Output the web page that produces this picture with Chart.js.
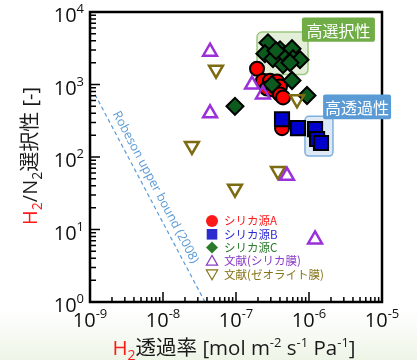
<!DOCTYPE html>
<html>
<head>
<meta charset="utf-8">
<script src="https://cdn.jsdelivr.net/npm/chart.js@4.4.1/dist/chart.umd.min.js"></script>
<style>
html, body { margin: 0; padding: 0; }
body { width: 417px; height: 360px; background: linear-gradient(180deg, #fff 0%, #fff 86%, #edf5e7 100%); }
#wrap { position: relative; width: 417px; height: 360px; }
</style>
</head>
<body>
<div id="wrap"><canvas id="chart"></canvas></div>
<script>
// H2 permeance [mol m-2 s-1 Pa-1] and H2/N2 selectivity [-]
var aPerm = [1.94e-7, 2.34e-7, 2.92e-7, 3.65e-7, 2.66e-7, 3.21e-7, 4.01e-7, 4.01e-7, 4.41e-7, 4.27e-7];
var aSel  = [1650, 1130, 1130, 1100, 880, 855, 940, 730, 664, 250];

var bPerm = [4.27e-7, 7.06e-7, 1.21e-6, 1.29e-6, 1.46e-6];
var bSel  = [332, 250, 242, 177, 156];

var cPerm = [2.74e-7, 2.49e-7, 3.21e-7, 4.01e-7, 4.41e-7, 4.69e-7, 5.85e-7, 6.04e-7, 7.53e-7, 5.49e-7, 3.53e-7, 3.11e-7, 5.85e-7, 9.39e-7, 9.68e-8];
var cSel  = [3760, 2660, 2270, 3010, 1880, 2580, 3110, 2270, 2200, 2000, 2920, 1000, 1135, 706, 500];

var silicaLitPerm = [4.41e-8, 4.41e-8, 1.66e-7, 2.34e-7, 5.0e-7, 1.21e-6];
var silicaLitSel  = [2830, 401, 1000, 730, 55, 7.3];

var zeoLitPerm = [5.32e-8, 6.86e-7, 2.49e-8, 3.76e-7, 9.68e-8];
var zeoLitSel  = [1600, 624, 142, 64, 36.5];

// Robeson upper bound (2008) as drawn
var robesonPerm = [1.17e-9, 3.76e-8];
var robesonSel  = [730, 1];

var seriesLabels = ['シリカ源A', 'シリカ源B', 'シリカ源C', '文献(シリカ膜)', '文献(ゼオライト膜)'];
var xTickExp = [-9, -8, -7, -6, -5];
var yTickExp = [0, 1, 2, 3, 4];

var FONT = "'Open Sans', 'Noto Sans CJK JP', sans-serif";
var JPFONT = "'Noto Sans CJK JP', 'Open Sans', sans-serif";

function pts(xs, ys) {
    var out = [];
    for (var i = 0; i < xs.length; i++) out.push({x: xs[i], y: ys[i]});
    return out;
}

function runsWidth(ctx, runs) {
    var w = 0;
    runs.forEach(function (r) {
        ctx.font = r.size + 'px ' + (r.font || FONT);
        w += ctx.measureText(r.t).width;
    });
    return w;
}

function drawRuns(ctx, runs, x, y, align) {
    var w = runsWidth(ctx, runs);
    var cx = align === 'center' ? x - w / 2 : (align === 'right' ? x - w : x);
    ctx.textAlign = 'left';
    ctx.textBaseline = 'alphabetic';
    runs.forEach(function (r) {
        ctx.font = r.size + 'px ' + (r.font || FONT);
        ctx.fillStyle = r.color || '#1a1a1a';
        ctx.fillText(r.t, cx, y + (r.dy || 0));
        cx += ctx.measureText(r.t).width;
    });
}

function powRuns(e) {
    return [{t: '10', size: 20, color: '#111'}, {t: String(e), size: 13, dy: -9, color: '#111'}];
}

function rrect(ctx, x, y, w, h, r) {
    ctx.beginPath();
    if (ctx.roundRect) ctx.roundRect(x, y, w, h, r);
    else ctx.rect(x, y, w, h);
}

// annotation areas, in data units
var greenBox = {x0: 1.94e-7, x1: 9.7e-7, y0: 5300, y1: 1370};
var greenTag = {x0: 8.0e-7, x1: 8.0e-6, y0: 8400, y1: 3900, text: '高選択性'};
var blueBox  = {x0: 8.8e-7, x1: 2.13e-6, y0: 365, y1: 103};
var blueTag  = {x0: 1.56e-6, x1: 1.33e-5, y0: 730, y1: 332, text: '高透過性'};

function boxPx(chart, b) {
    var xs = chart.scales.x, ys = chart.scales.y;
    var x0 = xs.getPixelForValue(b.x0), x1 = xs.getPixelForValue(b.x1);
    var y0 = ys.getPixelForValue(b.y0), y1 = ys.getPixelForValue(b.y1);
    return {x: x0, y: y0, w: x1 - x0, h: y1 - y0};
}

var deco = {
    id: 'deco',
    beforeDatasetsDraw: function (chart) {
        var ctx = chart.ctx;
        ctx.save();
        var g = boxPx(chart, greenBox);
        rrect(ctx, g.x, g.y, g.w, g.h, 5);
        ctx.fillStyle = '#e3efd9';
        ctx.fill();
        ctx.strokeStyle = '#9cc97f';
        ctx.lineWidth = 1.5;
        ctx.stroke();
        var b = boxPx(chart, blueBox);
        rrect(ctx, b.x, b.y, b.w, b.h, 4);
        ctx.fillStyle = '#dde9f6';
        ctx.fill();
        ctx.strokeStyle = '#7fb0de';
        ctx.stroke();
        ctx.restore();
    },
    afterDatasetsDraw: function (chart) {
        var ctx = chart.ctx, xs = chart.scales.x, ys = chart.scales.y, a = chart.chartArea;
        ctx.save();

        // Robeson label along the line
        var p0x = xs.getPixelForValue(robesonPerm[0]), p0y = ys.getPixelForValue(robesonSel[0]);
        var p1x = xs.getPixelForValue(robesonPerm[1]), p1y = ys.getPixelForValue(robesonSel[1]);
        var ang = Math.atan2(p1y - p0y, p1x - p0x);
        var mx = p0x + (p1x - p0x) * 0.47, my = p0y + (p1y - p0y) * 0.47;
        ctx.save();
        ctx.translate(mx + Math.sin(ang) * 10, my - Math.cos(ang) * 10);
        ctx.rotate(ang);
        ctx.font = '12.5px ' + FONT;
        ctx.fillStyle = '#5b9bd5';
        ctx.textAlign = 'center';
        ctx.textBaseline = 'middle';
        ctx.fillText('Robeson upper bound (2008)', 0, 0);
        ctx.restore();

        // frame
        ctx.strokeStyle = '#000';
        ctx.lineWidth = 2.5;
        ctx.strokeRect(a.left, a.top, a.right - a.left, a.bottom - a.top);

        // inward ticks
        ctx.lineWidth = 1.5;
        ctx.beginPath();
        var e, m, v, p;
        for (e = xTickExp[0]; e <= xTickExp[xTickExp.length - 1]; e++) {
            for (m = 1; m < 10; m++) {
                v = m * Math.pow(10, e);
                if (v > xs.max * 1.0001) break;
                p = xs.getPixelForValue(v);
                ctx.moveTo(p, a.bottom);
                ctx.lineTo(p, a.bottom - (m === 1 ? 10 : 5));
            }
        }
        for (e = yTickExp[0]; e <= yTickExp[yTickExp.length - 1]; e++) {
            for (m = 1; m < 10; m++) {
                v = m * Math.pow(10, e);
                if (v > ys.max * 1.0001) break;
                p = ys.getPixelForValue(v);
                ctx.moveTo(a.left, p);
                ctx.lineTo(a.left + (m === 1 ? 10 : 6), p);
            }
        }
        ctx.stroke();

        // tick labels
        xTickExp.forEach(function (ex) {
            drawRuns(ctx, powRuns(ex), xs.getPixelForValue(Math.pow(10, ex)), a.bottom + 25, 'center');
        });
        yTickExp.forEach(function (ex) {
            drawRuns(ctx, powRuns(ex), a.left - 6, ys.getPixelForValue(Math.pow(10, ex)) + 10, 'right');
        });

        // axis titles
        var red = '#ff1a1a';
        drawRuns(ctx, [
            {t: 'H', size: 20.5, color: red},
            {t: '2', size: 14, dy: 5, color: red},
            {t: '透過率 [mol m', size: 20.5},
            {t: '-2', size: 13, dy: -8},
            {t: ' s', size: 20.5},
            {t: '-1', size: 13, dy: -8},
            {t: ' Pa', size: 20.5},
            {t: '-1', size: 13, dy: -8},
            {t: ']', size: 20.5}
        ], 234, 355, 'center');

        ctx.save();
        ctx.translate(37, 156);
        ctx.rotate(-Math.PI / 2);
        drawRuns(ctx, [
            {t: 'H', size: 20, color: red},
            {t: '2', size: 14, dy: 5, color: red},
            {t: '/N', size: 20},
            {t: '2', size: 14, dy: 5},
            {t: '選択性 [-]', size: 20}
        ], 0, 0, 'center');
        ctx.restore();

        // tags
        [[greenTag, '#70ad47'], [blueTag, '#5b9bd5']].forEach(function (tg) {
            var r = boxPx(chart, tg[0]);
            rrect(ctx, r.x, r.y, r.w, r.h, 2);
            ctx.fillStyle = tg[1];
            ctx.fill();
            ctx.fillStyle = '#fff';
            ctx.font = '16px ' + JPFONT;
            ctx.textAlign = 'center';
            ctx.textBaseline = 'middle';
            ctx.fillText(tg[0].text, r.x + r.w / 2, r.y + r.h / 2 + 1);
        });

        // legend
        var lx = 212, ly = 221, step = 13.3;
        var sets = chart.data.datasets.slice(0, 5);
        sets.forEach(function (ds, i) {
            var y = ly + i * step;
            var hollow = ds.backgroundColor === 'rgba(0,0,0,0)';
            ctx.fillStyle = hollow ? 'rgba(0,0,0,0)' : ds.legendColor;
            ctx.strokeStyle = ds.legendColor;
            ctx.lineWidth = 1.2;
            Chart.helpers.drawPoint(ctx, {
                pointStyle: ds.pointStyle,
                radius: hollow ? 6.5 : (ds.pointStyle === 'rect' ? 7.5 : 6),
                rotation: ds.rotation || 0,
                borderWidth: hollow ? 1.2 : 0
            }, lx, y + (hollow ? (ds.rotation ? -1 : 1) : 0));
            ctx.font = '11.5px ' + JPFONT;
            ctx.fillStyle = ds.legendColor;
            ctx.textAlign = 'left';
            ctx.textBaseline = 'middle';
            ctx.fillText(ds.label, lx + 12, y);
        });

        ctx.restore();
    }
};

new Chart(document.getElementById('chart'), {
    type: 'scatter',
    data: {
        datasets: [
            {label: seriesLabels[0], data: pts(aPerm, aSel), pointStyle: 'circle', pointRadius: 7,
             backgroundColor: '#ff0000', borderColor: '#000', borderWidth: 2, legendColor: '#ff1a1a', order: 5},
            {label: seriesLabels[1], data: pts(bPerm, bSel), pointStyle: 'rect', pointRadius: 10,
             backgroundColor: '#0000cc', borderColor: '#000', borderWidth: 2, legendColor: '#2b2bd0', order: 4},
            {label: seriesLabels[2], data: pts(cPerm, cSel), pointStyle: 'rectRot', pointRadius: 8.5,
             backgroundColor: '#0d5a1e', borderColor: '#000', borderWidth: 2, legendColor: '#2a7a2a', order: 3},
            {label: seriesLabels[3], data: pts(silicaLitPerm, silicaLitSel), pointStyle: 'triangle', pointRadius: 8,
             backgroundColor: 'rgba(0,0,0,0)', borderColor: '#9b30d9', borderWidth: 2.5, legendColor: '#8a3cc4', order: 1},
            {label: seriesLabels[4], data: pts(zeoLitPerm, zeoLitSel), pointStyle: 'triangle', rotation: 180, pointRadius: 8,
             backgroundColor: 'rgba(0,0,0,0)', borderColor: '#7d6b12', borderWidth: 2.5, legendColor: '#857418', order: 2},
            {type: 'line', label: 'Robeson', data: pts(robesonPerm, robesonSel), showLine: true,
             borderColor: '#5b9bd5', borderWidth: 1.2, borderDash: [4, 3], pointRadius: 0, fill: false, order: 9}
        ]
    },
    options: {
        responsive: true,
        maintainAspectRatio: false,
        animation: false,
        devicePixelRatio: 1,
        layout: {padding: {left: 90, right: 35, top: 10, bottom: 58}},
        plugins: {legend: {display: false}, tooltip: {enabled: false}},
        scales: {
            x: {type: 'logarithmic', min: 1e-9, max: 1e-5, display: false},
            y: {type: 'logarithmic', min: 1, max: 1e4, display: false}
        }
    },
    plugins: [deco]
});
</script>
</body>
</html>
